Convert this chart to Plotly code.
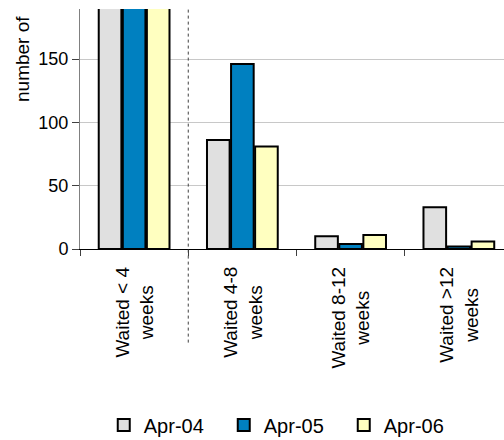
import plotly.graph_objects as go

categories = ["Waited < 4<br>weeks", "Waited 4-8<br>weeks", "Waited 8-12<br>weeks", "Waited >12<br>weeks"]
series_names = ["Apr-04", "Apr-05", "Apr-06"]
apr04 = [1200, 86, 10, 33]
apr05 = [1250, 146, 4, 2]
apr06 = [1230, 81, 11, 6]
colors = ["#e0e0e0", "#0080c0", "#ffffc0"]
y_ticks = [0, 50, 100, 150]

FONT = "Liberation Sans, Arial, sans-serif"
cat_idx = list(range(len(categories)))

fig = go.Figure()
for name, vals, col in zip(series_names, [apr04, apr05, apr06], colors):
    fig.add_trace(go.Bar(
        x=cat_idx, y=vals, name=name,
        marker=dict(color=col, line=dict(color="black", width=2)),
    ))

fig.update_layout(
    width=504, height=440,
    margin=dict(l=80, r=0, t=9, b=191, autoexpand=False),
    plot_bgcolor="white", paper_bgcolor="white",
    barmode="group", bargap=0.333, bargroupgap=0.06,
    font=dict(family=FONT, color="black"),
    showlegend=True,
    legend=dict(
        orientation="h", xref="container", yref="container",
        x=0.563, xanchor="center", y=0.034, yanchor="middle",
        font=dict(size=20, family=FONT, color="black"),
        entrywidth=75, itemwidth=30,
    ),
)

fig.update_xaxes(
    type="linear", range=[-0.5, 3.417],
    tickmode="array", tickvals=[-0.5, 0.5, 1.5, 2.5],
    showticklabels=False, ticks="outside", ticklen=6, tickcolor="#404040",
    showline=True, linecolor="black", linewidth=1.2,
    showgrid=False, zeroline=False,
)
fig.update_yaxes(
    range=[0, 189.5], tickvals=y_ticks,
    ticks="outside", ticklen=7, tickcolor="#404040",
    showline=True, linecolor="#808080", linewidth=1,
    showgrid=True, gridcolor="#c8c8c8", gridwidth=1,
    zeroline=False,
    tickfont=dict(size=18, family=FONT, color="black"),
)

# category labels (centered multi-line, rotated)
for i, c in enumerate(categories):
    fig.add_annotation(
        x=i, xref="x", y=0, yref="paper", yshift=-16,
        text=c, textangle=-90, showarrow=False,
        xanchor="center", yanchor="top", align="center",
        font=dict(size=19, family=FONT, color="black"),
    )

# y-axis title
fig.add_annotation(
    x=0, xref="paper", xshift=-58, y=1, yref="paper", yshift=-5,
    text="number of", textangle=-90, showarrow=False,
    xanchor="center", yanchor="top",
    font=dict(size=19, family=FONT, color="black"),
)

# dotted divider between first and second category
fig.add_shape(
    type="line", xref="x", yref="paper",
    x0=0.5, x1=0.5, y0=-0.39, y1=1,
    line=dict(color="#404040", width=1, dash="dot"),
)

fig.write_html(
    "out.html",
    config={"displayModeBar": False},
    post_script="document.body.style.margin='0';document.body.style.overflow='hidden';",
)
